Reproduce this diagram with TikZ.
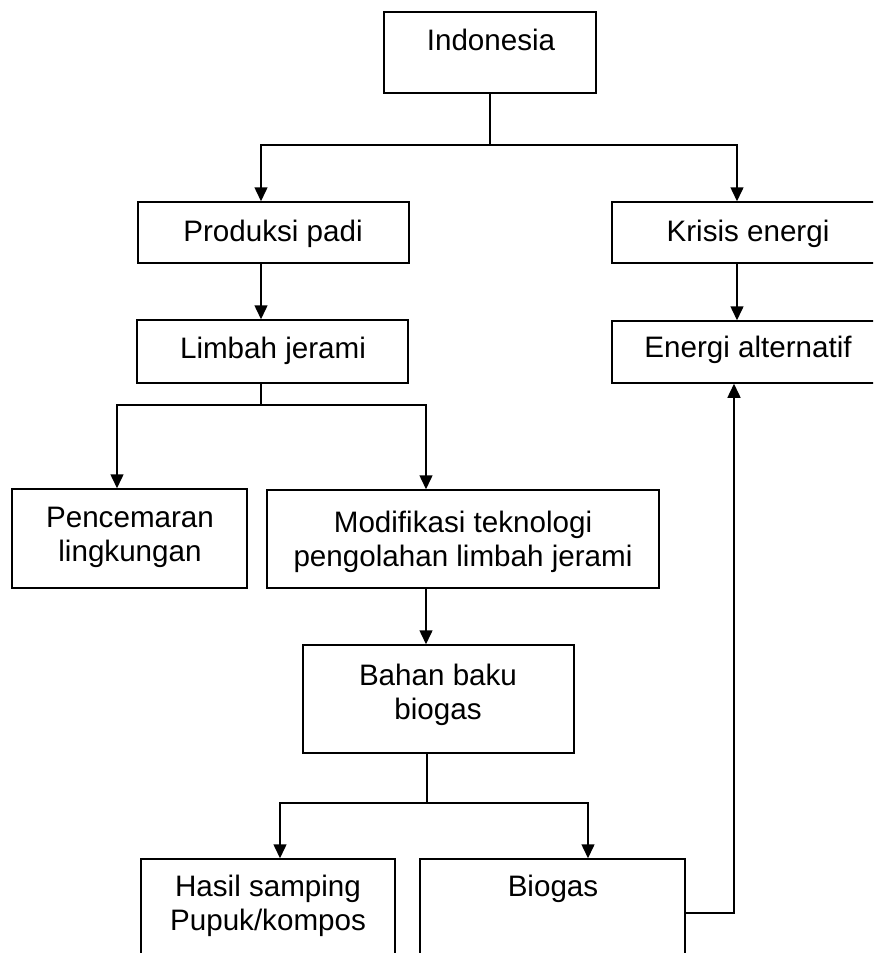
\documentclass[tikz,border=0pt]{standalone}
\usepackage{fontspec}
\setmainfont{Liberation Sans}
\usetikzlibrary{arrows.meta}
\newcommand\myboxat[5]{\node[box, minimum width={(#4)-(#2)}, minimum height={(#5)-(#3)}] (#1) at ({((#2)+(#4))/2},{((#3)+(#5))/2}) {};}
\begin{document}
\begin{tikzpicture}[x=1pt,y=-1pt,
  box/.style={draw, line width=1.5pt, inner sep=0pt, rectangle},
  txt/.style={font=\fontsize{29.6}{34}\selectfont, inner sep=0pt, align=center},
  conn/.style={line width=1.5pt},
  arr/.style={conn, -{Triangle[length=14pt,width=13pt]}}]
\clip (0,0) rectangle (873,953);
\fill[white] (0,0) rectangle (873,953);
% boxes
\myboxat{ind}{384}{12}{596}{93}
\myboxat{prod}{138}{202}{409}{263}
\myboxat{limb}{137}{320}{408}{383}
\myboxat{kris}{612}{202}{884}{263}
\myboxat{ener}{612}{321}{884}{383}
\myboxat{penc}{12}{489}{247}{588}
\myboxat{modi}{267}{490}{659}{588}
\myboxat{baha}{303}{645}{574}{753}
\myboxat{hasi}{141}{859}{395}{1000}
\myboxat{biog}{420}{859}{685}{1000}
% texts
\node[txt, anchor=base] (t-ind) at (491,50) {Indonesia};
\node[txt, anchor=base] (t-prod) at (273,241) {Produksi padi};
\node[txt, anchor=base] (t-limb) at (273,358) {Limbah jerami};
\node[txt, anchor=base] (t-kris) at (748,241) {Krisis energi};
\node[txt, anchor=base] (t-ener) at (748,357) {Energi alternatif};
\node[txt, anchor=north] (t-penc) at (130,507) {Pencemaran\\lingkungan};
\node[txt, anchor=north] (t-modi) at (463,511) {Modifikasi teknologi\\pengolahan limbah jerami};
\node[txt, anchor=north] (t-baha) at (438,664) {Bahan baku\\biogas};
\node[txt, anchor=north] (t-hasi) at (268,875) {Hasil samping\\Pupuk/kompos};
\node[txt, anchor=base] (t-biog) at (553,896) {Biogas};
% connectors
\coordinate (j1) at (490,145);
\coordinate (j1l) at (261,145);
\coordinate (j1r) at (737,145);
\draw[conn] (j1 |- ind.south) -- (j1);
\draw[arr] (j1) -| (j1l |- prod.north);
\draw[arr] (j1) -| (j1r |- kris.north);
\draw[arr] (j1l |- prod.south) -- (j1l |- limb.north);
\draw[arr] (j1r |- kris.south) -- (j1r |- ener.north);
\coordinate (j2) at (261,405);
\coordinate (j2l) at (117,405);
\coordinate (j2r) at (426,405);
\draw[conn] (j2 |- limb.south) -- (j2);
\draw[arr] (j2) -| (j2l |- penc.north);
\draw[arr] (j2) -| (j2r |- modi.north);
\draw[arr] (j2r |- modi.south) -- (j2r |- baha.north);
\coordinate (j3) at (427,803);
\coordinate (j3l) at (280,803);
\coordinate (j3r) at (588,803);
\draw[conn] (j3 |- baha.south) -- (j3);
\draw[arr] (j3) -| (j3l |- hasi.north);
\draw[arr] (j3) -| (j3r |- biog.north);
\coordinate (j4) at (734,913);
\draw[arr] (biog.east |- j4) -- (j4) -- (j4 |- ener.south);
\end{tikzpicture}
\end{document}
